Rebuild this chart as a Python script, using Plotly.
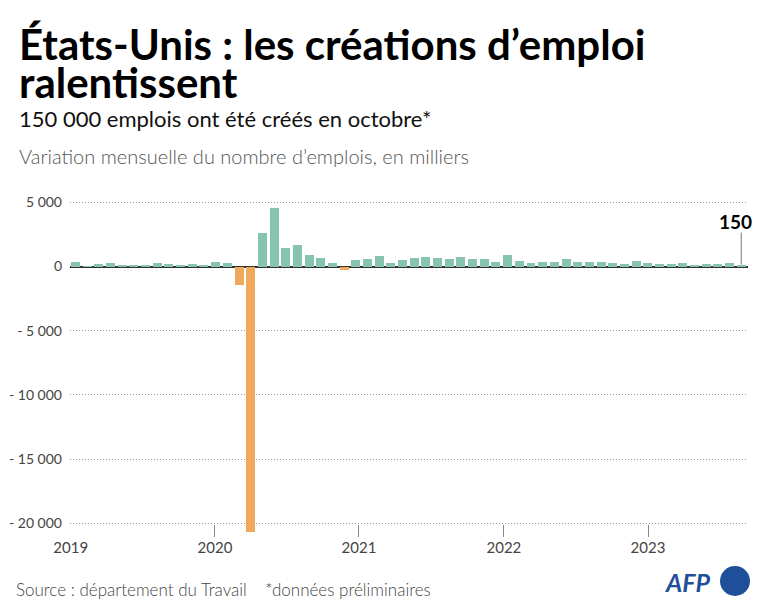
import plotly.graph_objects as go

# ---- data (thousands of jobs, monthly change) ----
years = ["2019", "2020", "2021", "2022", "2023"]
v2019 = [330, 10, 230, 250, 70, 150, 100, 250, 200, 130, 230, 100]
v2020 = [360, 280, -1430, -20680, 2620, 4560, 1450, 1710, 930, 700, 235, -310]
v2021 = [500, 600, 790, 280, 490, 670, 775, 645, 567, 775, 620, 567]
v2022 = [386, 878, 412, 256, 360, 360, 567, 360, 360, 334, 280, 230]
v2023 = [464, 256, 205, 205, 256, 90, 230, 205, 308, 150]
values = v2019 + v2020 + v2021 + v2022 + v2023
month_idx = list(range(len(values)))

y_tickvals = [5000, 0, -5000, -10000, -15000, -20000]
y_ticktext = ["5 000", "0", "- 5 000", "- 10 000", "- 15 000", "- 20 000"]

TEAL = "#86c3b1"
ORANGE = "#f0a95a"
colors = [TEAL if v >= 0 else ORANGE for v in values]

# ---- layout geometry ----
# The page body has an 8px margin: the figure is sized to fit inside the
# window without scrollbars and reference pixel positions are offset by 8.
OFF = 8
W, H = 752, 595
L, R, T, B = 62, 12, 182, 66
PW, PH = W - L - R, H - T - B

def px(x):
    return (x - OFF - L) / PW

def py(y):
    return (H - B - (y - OFF)) / PH

FONT = "Lato"

fig = go.Figure()
fig.add_trace(go.Bar(
    x=month_idx, y=values, marker=dict(color=colors, line=dict(width=0)),
    width=0.77, hoverinfo="skip"))

year_pos = [-0.41, 11.94, 24.27, 36.68, 49.02]

fig.update_layout(
    width=W, height=H, margin=dict(l=L, r=R, t=T, b=B, autoexpand=False),
    paper_bgcolor="white", plot_bgcolor="white", showlegend=False,
    bargap=0,
    font=dict(family=FONT, color="#444"),
    xaxis=dict(range=[-0.471, 57.58], tickvals=year_pos, ticktext=years,
               ticks="inside", ticklen=12, tickcolor="#888", tickwidth=1,
               showgrid=False, zeroline=False, showline=False, automargin=False,
               tickfont=dict(family=FONT, size=15, color="#444")),
    yaxis=dict(range=[-21067, 5958], tickvals=y_tickvals, ticktext=y_ticktext,
               showgrid=True, gridcolor="#999999", griddash="1px,2px", gridwidth=1,
               zeroline=True, zerolinecolor="#333333", zerolinewidth=1.5,
               showline=False, ticks="", ticklabelstandoff=7, automargin=False,
               tickfont=dict(family=FONT, size=14, color="#444")),
)

ann = []
ann.append(dict(text="<b>États-Unis : les créations d’emploi</b>", x=px(17), y=py(44),
                xref="paper", yref="paper", xanchor="left", yanchor="middle",
                showarrow=False, font=dict(family=FONT, size=42, color="#000")))
ann.append(dict(text="<b>ralentissent</b>", x=px(17), y=py(82),
                xref="paper", yref="paper", xanchor="left", yanchor="middle",
                showarrow=False, font=dict(family=FONT, size=42, color="#000")))
ann.append(dict(text="150 000 emplois ont été créés en octobre*", x=px(17), y=py(119),
                xref="paper", yref="paper", xanchor="left", yanchor="middle",
                showarrow=False, font=dict(family=FONT, size=22, color="#111")))
ann.append(dict(text="Variation mensuelle du nombre d’emplois, en milliers", x=px(17), y=py(156),
                xref="paper", yref="paper", xanchor="left", yanchor="middle",
                showarrow=False, font=dict(family=FONT, size=20, color="#555", weight=300)))
ann.append(dict(text="Source : département du Travail    *données préliminaires", x=px(14), y=py(589),
                xref="paper", yref="paper", xanchor="left", yanchor="middle",
                showarrow=False, font=dict(family=FONT, size=17, color="#444", weight=300)))
ann.append(dict(text="<b><i>AFP</i></b>", x=px(713), y=py(582),
                xref="paper", yref="paper", xanchor="right", yanchor="middle",
                showarrow=False, font=dict(family=FONT, size=25, color="#1f4f9b")))
ann.append(dict(text="<b>%d</b>" % values[-1], x=month_idx[-1], y=py(221),
                xref="x", yref="paper", xanchor="center", yanchor="middle", xshift=-6,
                showarrow=False, font=dict(family=FONT, size=19, color="#000")))
fig.update_layout(annotations=ann)

shapes = []
# AFP circle
shapes.append(dict(type="circle", xref="paper", yref="paper", x0=px(720), x1=px(750),
                   y0=py(596), y1=py(566), fillcolor="#1f4f9b", line=dict(width=0)))
# leader line for last value
shapes.append(dict(type="line", xref="x", yref="y", x0=month_idx[-1], x1=month_idx[-1],
                   y0=values[-1], y1=2650, line=dict(color="#777", width=1)))
fig.update_layout(shapes=shapes)

fig.write_html("out.html")
